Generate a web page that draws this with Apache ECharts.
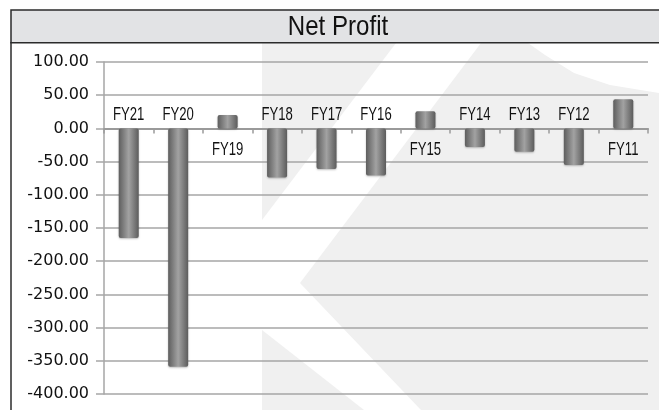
<!DOCTYPE html>
<html>
<head>
<meta charset="utf-8">
<script src="https://cdn.jsdelivr.net/npm/echarts@6/dist/echarts.min.js"></script>
<style>
html,body{margin:0;padding:0;background:#fff;}
#chart{width:659px;height:410px;}
</style>
</head>
<body>
<div id="chart"></div>
<script>
const categories = ['FY21','FY20','FY19','FY18','FY17','FY16','FY15','FY14','FY13','FY12','FY11'];
const netProfit = [-165, -359, 20, -74, -61, -71, 26, -28, -35, -55, 44];
const yTicks = {min: -400, max: 100, interval: 50};
const titleText = 'Net Profit';

const chart = echarts.init(document.getElementById('chart'));
const barGrad = new echarts.graphic.LinearGradient(0, 0, 1, 0, [
  {offset: 0, color: '#5e5e5e'},
  {offset: 0.5, color: '#a2a2a2'},
  {offset: 1, color: '#5c5c5c'}
]);
const wm = '#f0f0f0';
chart.setOption({
  animation: false,
  backgroundColor: '#ffffff',
  graphic: [
    {type: 'polygon', z: -10, shape: {points: [[262,43],[396,43],[262,220]]}, style: {fill: wm}},
    {type: 'polygon', z: -10, shape: {points: [[481,43],[528,43],[545,55],[574,73],[610,85],[659,93],[659,410],[421,410],[300,283]]}, style: {fill: wm}},
    {type: 'polygon', z: -10, shape: {points: [[262,330],[364,410],[262,410]]}, style: {fill: wm}},
    {type: 'rect', z: 10, shape: {x: 11, y: 10, width: 660, height: 32.7},
     style: {fill: '#e2e3e5', stroke: '#2b2b2b', lineWidth: 1.5}},
    {type: 'line', z: 10, shape: {x1: 11, y1: 42, x2: 11, y2: 410},
     style: {stroke: '#2b2b2b', lineWidth: 1.5}},
    {type: 'text', z: 11, x: 338, y: 27.5, scaleX: 0.86,
     style: {text: titleText, fill: '#111', fontSize: 28,
       fontFamily: '"Liberation Sans", Arial, sans-serif', align: 'center', verticalAlign: 'middle'}}
  ],
  grid: {left: 104, right: 11, top: 62, bottom: 16, containLabel: false},
  xAxis: {
    type: 'category', data: categories,
    axisLine: {onZero: true, lineStyle: {color: '#9a9a9a', width: 2}},
    axisTick: {show: true, length: 5, inside: false, lineStyle: {color: '#9a9a9a', width: 1.5}},
    axisLabel: {show: false},
    splitLine: {show: false}
  },
  yAxis: {
    type: 'value', min: yTicks.min, max: yTicks.max, interval: yTicks.interval,
    axisLine: {show: true, lineStyle: {color: '#a6a6a6', width: 1.5}},
    axisTick: {show: true, length: 8, lineStyle: {color: '#a6a6a6', width: 1.5}},
    axisLabel: {formatter: v => v.toFixed(2), color: '#111', fontSize: 16, margin: 15,
      fontFamily: '"DejaVu Sans", sans-serif'},
    splitLine: {show: true, lineStyle: {color: '#a6a6a6', width: 1.5}}
  },
  series: [
    {type: 'bar', data: netProfit, barWidth: 20,
     itemStyle: {color: barGrad, borderRadius: 2, shadowColor: 'rgba(0,0,0,0.25)', shadowBlur: 2, shadowOffsetY: 1}},
    {type: 'custom', z: 5, silent: true,
     data: categories.map((c, i) => [i, netProfit[i]]),
     encode: {x: 0, y: 1},
     renderItem: function (params, api) {
       const i = api.value(0);
       const v = api.value(1);
       const p = api.coord([i, 0]);
       const dy = v < 0 ? -14 : 21.5;
       return {
         type: 'text', x: p[0], y: p[1] + dy, scaleX: 0.69,
         style: {text: categories[i], fill: '#111', fontSize: 19,
           fontFamily: '"Liberation Sans", Arial, sans-serif', align: 'center', verticalAlign: 'middle'}
       };
     }}
  ]
});
</script>
</body>
</html>
